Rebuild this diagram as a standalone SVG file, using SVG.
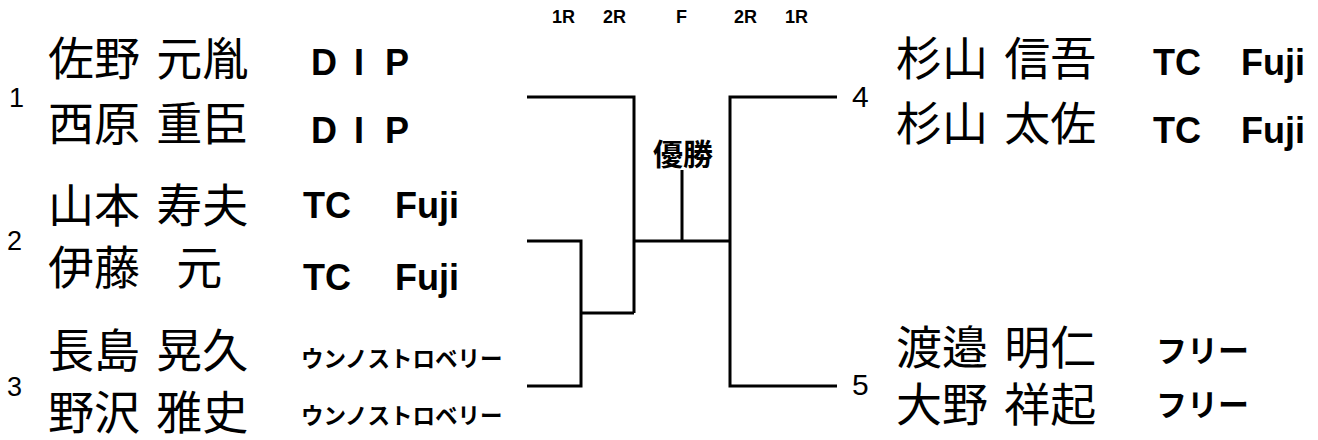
<svg xmlns="http://www.w3.org/2000/svg" width="1318" height="440" viewBox="0 0 1318 440">
<style>
.nm{font-family:"Noto Sans CJK JP","Noto Sans CJK SC",sans-serif;font-size:46px;word-spacing:6px;fill:#000}
.af{font-family:"Liberation Sans",Arial,sans-serif;font-size:36px;font-weight:bold;fill:#000}
.kt{font-family:"Noto Sans CJK JP",sans-serif;font-size:22.5px;font-weight:bold;fill:#000}
.fr{font-family:"Noto Sans CJK JP",sans-serif;font-size:31px;font-weight:bold;fill:#000}
.sd{font-family:"Liberation Sans",Arial,sans-serif;font-size:27px;fill:#000}
.sdr{font-family:"Liberation Sans",Arial,sans-serif;font-size:30px;fill:#000}
.hd{font-family:"Liberation Sans",Arial,sans-serif;font-size:18px;font-weight:bold;fill:#000}
.ln{fill:none;stroke:#000;stroke-width:3}
</style>
<rect width="1318" height="440" fill="#fff"/>
<g id="header">
<text class="hd" x="552" y="23">1R</text>
<text class="hd" x="603" y="23">2R</text>
<text class="hd" x="676" y="23">F</text>
<text class="hd" x="734" y="23">2R</text>
<text class="hd" x="785" y="23">1R</text>
</g>
<g id="connectors">
<path class="ln" d="M527,97 H634 V313 M527,241 H581 V386 H527 M581,313 H634 M634,241 H731 M682,170 V241 M837,97 H730 V386 H837"/>
</g>
<g id="winner">
<text x="683" y="165" text-anchor="middle" style="font-family:'Noto Sans CJK JP',sans-serif;font-size:30px;font-weight:bold">優勝</text>
</g>
<g id="seed1">
<text class="sd" x="9" y="107">1</text>
<text class="nm" x="48" y="75">佐野 元胤</text>
<text class="nm" x="48" y="140">西原 重臣</text>
<text class="af" x="311" y="75">D <tspan x="354">I </tspan><tspan x="385">P</tspan></text>
<text class="af" x="311" y="143">D <tspan x="354">I </tspan><tspan x="385">P</tspan></text>
</g>
<g id="seed2">
<text class="sd" x="7" y="250">2</text>
<text class="nm" x="48" y="222">山本 寿夫</text>
<text class="nm" x="48" y="284" style="word-spacing:26px">伊藤 元</text>
<text class="af" x="303" y="218">TC <tspan x="395">Fuji</tspan></text>
<text class="af" x="303" y="290">TC <tspan x="395">Fuji</tspan></text>
</g>
<g id="seed3">
<text class="sd" x="7" y="396">3</text>
<text class="nm" x="48" y="367">長島 晃久</text>
<text class="nm" x="48" y="429">野沢 雅史</text>
<text class="kt" x="301" y="367">ウンノストロベリー</text>
<text class="kt" x="301" y="424">ウンノストロベリー</text>
</g>
<g id="seed4">
<text class="sdr" x="852" y="107">4</text>
<text class="nm" x="896" y="75">杉山 信吾</text>
<text class="nm" x="896" y="140">杉山 太佐</text>
<text class="af" x="1153" y="75">TC <tspan x="1241">Fuji</tspan></text>
<text class="af" x="1153" y="143">TC <tspan x="1241">Fuji</tspan></text>
</g>
<g id="seed5">
<text class="sdr" x="852" y="395">5</text>
<text class="nm" x="896" y="364">渡邉 明仁</text>
<text class="nm" x="896" y="421">大野 祥起</text>
<text class="fr" x="1156" y="362">フリー</text>
<text class="fr" x="1156" y="416">フリー</text>
</g>
</svg>
